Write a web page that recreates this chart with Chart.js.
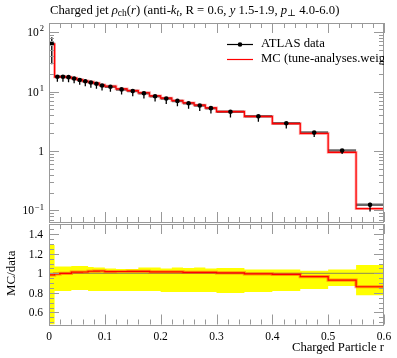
<!DOCTYPE html>
<html>
<head>
<meta charset="utf-8">
<script src="https://cdn.jsdelivr.net/npm/chart.js@4/dist/chart.umd.min.js"></script>
<style>
body { margin: 0; background: #fff; }
#wrap { position: relative; width: 397px; height: 358px; }
canvas { position: absolute; left: 0; }
#top { top: 0; }
#bot { top: 220px; }
</style>
</head>
<body>
<div id="wrap">
  <canvas id="top" width="397" height="226"></canvas>
  <canvas id="bot" width="397" height="138"></canvas>
</div>
<script>
// bins in r
const binLow  = [0, 0.01, 0.02, 0.03, 0.04, 0.05, 0.06, 0.07, 0.08, 0.09, 0.1, 0.12, 0.14, 0.16, 0.18, 0.2, 0.22, 0.24, 0.26, 0.28, 0.3, 0.35, 0.4, 0.45, 0.5, 0.55];
const binHigh = [0.01, 0.02, 0.03, 0.04, 0.05, 0.06, 0.07, 0.08, 0.09, 0.1, 0.12, 0.14, 0.16, 0.18, 0.2, 0.22, 0.24, 0.26, 0.28, 0.3, 0.35, 0.4, 0.45, 0.5, 0.55, 0.6];

// ATLAS data, rho_ch(r)
const dataVal = [64, 17.8, 17.8, 17.5, 16.6, 15.7, 14.9, 14.2, 13.6, 12.7, 12.1, 10.9, 10.2, 9.37, 8.35, 7.64, 6.97, 6.38, 5.84, 5.27, 4.57, 3.83, 2.93, 2.04, 1.02, 0.124];
// relative errors (up / down)
const dataErrUp   = [0.29, 0.07, 0.07, 0.07, 0.075, 0.075, 0.075, 0.065, 0.06, 0.06, 0.05, 0.045, 0.045, 0.06, 0.06, 0.05, 0.06, 0.055, 0.06, 0.05, 0.055, 0.04, 0.04, 0.025, 0.04, 0.085];
const dataErrDown = [0.55, 0.18, 0.18, 0.18, 0.17, 0.17, 0.17, 0.18, 0.18, 0.18, 0.18, 0.18, 0.18, 0.18, 0.18, 0.19, 0.19, 0.19, 0.19, 0.19, 0.2, 0.19, 0.18, 0.16, 0.13, 0.225];

// MC (tune-analyses.weights)
const mcVal = [63.0, 17.7, 17.8, 17.5, 16.8, 15.9, 15.1, 14.5, 13.9, 13.0, 12.3, 11.1, 10.4, 9.56, 8.48, 7.75, 7.07, 6.44, 5.90, 5.32, 4.59, 3.81, 2.90, 1.97, 0.949, 0.107];

const xTicks = [0, 0.1, 0.2, 0.3, 0.4, 0.5, 0.6];
const xTickLabels = ['0', '0.1', '0.2', '0.3', '0.4', '0.5', '0.6'];
const mainTicks = [0.1, 1, 10, 100];
const mainTickLabels = [['10', '\u22121'], ['1', ''], ['10', '1'], ['10', '2']];
const ratioTicks = [0.6, 0.8, 1, 1.2, 1.4];
const ratioTickLabels = ['0.6', '0.8', '1', '1.2', '1.4'];

const SERIF = '"Liberation Serif", "DejaVu Serif", serif';
const FRAME = '#999';

// helpers building step / segment data from arrays
function stepPoints(vals) {
  const pts = binLow.map((x, i) => ({x: x, y: vals[i]}));
  pts.push({x: binHigh[binHigh.length - 1], y: vals[vals.length - 1]});
  return pts;
}
function segments(list) {
  const pts = [];
  list.forEach(s => { pts.push(s[0], s[1], {x: s[1].x, y: null}); });
  return pts;
}
const centers = binLow.map((x, i) => (x + binHigh[i]) / 2);
const ratioVal = mcVal.map((m, i) => m / dataVal[i]);

function drawTicks(chart, yMajor, yMinor) {
  const {ctx, chartArea: a, scales: {x, y}} = chart;
  ctx.save();
  ctx.strokeStyle = FRAME;
  ctx.lineWidth = 1;
  ctx.beginPath();
  for (let i = 0; i <= 30; i++) {
    const v = i * 0.02;
    const px = Math.round(x.getPixelForValue(v)) + 0.5;
    const len = (i % 5 === 0) ? 10 : 5;
    ctx.moveTo(px, a.bottom); ctx.lineTo(px, a.bottom - len);
    ctx.moveTo(px, a.top); ctx.lineTo(px, a.top + len);
  }
  yMajor.forEach(v => {
    const py = Math.round(y.getPixelForValue(v)) + 0.5;
    ctx.moveTo(a.left, py); ctx.lineTo(a.left + 10, py);
    ctx.moveTo(a.right, py); ctx.lineTo(a.right - 10, py);
  });
  yMinor.forEach(v => {
    const py = Math.round(y.getPixelForValue(v)) + 0.5;
    if (py < a.top || py > a.bottom) return;
    ctx.moveTo(a.left, py); ctx.lineTo(a.left + 5, py);
    ctx.moveTo(a.right, py); ctx.lineTo(a.right - 5, py);
  });
  ctx.stroke();
  ctx.strokeRect(Math.round(a.left) + 0.5, Math.round(a.top) + 0.5,
    Math.round(a.right - a.left) - 1, Math.round(a.bottom - a.top));
  ctx.restore();
}

function drawRich(ctx, x, y, parts) {
  parts.forEach(p => {
    ctx.font = p.f;
    ctx.fillText(p.t, x, y + (p.dy || 0));
    x += ctx.measureText(p.t).width;
  });
}

const topPlugin = {
  id: 'topDecor',
  afterDraw(chart) {
    const {ctx, chartArea: a, scales: {y}} = chart;
    const logMinor = [];
    [0.01, 0.1, 1, 10].forEach(d => { for (let k = 2; k <= 9; k++) logMinor.push(d * k); });
    drawTicks(chart, mainTicks, logMinor);

    ctx.save();
    ctx.fillStyle = '#000';
    ctx.textBaseline = 'middle';
    mainTicks.forEach((v, i) => {
      const py = y.getPixelForValue(v);
      const [base, sup] = mainTickLabels[i];
      ctx.font = '11.5px ' + SERIF;
      const wb = ctx.measureText(base).width;
      ctx.font = '8.5px ' + SERIF;
      const ws = ctx.measureText(sup).width;
      let xs = 44 - wb - ws - (sup ? 1 : 0);
      ctx.font = '11.5px ' + SERIF;
      ctx.fillText(base, xs, py + 1);
      if (sup) {
        ctx.font = '8.5px ' + SERIF;
        ctx.fillText(sup, xs + wb + 1, py - 3);
      }
    });

    // title
    ctx.textBaseline = 'alphabetic';
    const n = '12.7px ' + SERIF, it = 'italic 12.7px ' + SERIF, sm = '9.5px ' + SERIF, smi = 'italic 9.5px ' + SERIF;
    drawRich(ctx, 50, 14, [
      {t: 'Charged jet ', f: n}, {t: '\u03c1', f: it}, {t: 'ch', f: sm, dy: 2},
      {t: '(', f: n}, {t: 'r', f: it}, {t: ') (anti-', f: n}, {t: 'k', f: it},
      {t: 't', f: smi, dy: 2}, {t: ', R = 0.6, ', f: n}, {t: 'y', f: it},
      {t: ' 1.5-1.9, ', f: n}, {t: 'p', f: it}, {t: '\u22a5', f: sm, dy: 2},
      {t: ' 4.0-6.0)', f: n}
    ]);

    // legend, clipped to the plot frame
    ctx.beginPath();
    ctx.rect(a.left, a.top, a.right - a.left, a.bottom - a.top);
    ctx.clip();
    ctx.lineWidth = 1.2;
    ctx.strokeStyle = '#000';
    ctx.beginPath(); ctx.moveTo(227, 44.5); ctx.lineTo(253, 44.5); ctx.stroke();
    ctx.beginPath(); ctx.arc(240, 44.5, 2.3, 0, Math.PI * 2); ctx.fill();
    ctx.strokeStyle = '#f00';
    ctx.beginPath(); ctx.moveTo(227, 59.5); ctx.lineTo(253, 59.5); ctx.stroke();
    ctx.font = '12.7px ' + SERIF;
    ctx.textBaseline = 'middle';
    ctx.fillText('ATLAS data', 261, 44);
    ctx.fillText('MC (tune-analyses.weights)', 261, 59);
    ctx.restore();
  }
};

const botPlugin = {
  id: 'botDecor',
  afterDraw(chart) {
    const {ctx, chartArea: a, scales: {x, y}} = chart;
    const minor = [];
    for (let i = 10; i <= 30; i++) minor.push(i * 0.05);
    drawTicks(chart, ratioTicks, minor);
    ctx.save();
    ctx.fillStyle = '#000';
    ctx.font = '11.5px ' + SERIF;
    ctx.textBaseline = 'middle';
    ctx.textAlign = 'right';
    ratioTicks.forEach((v, i) => ctx.fillText(ratioTickLabels[i], 43, y.getPixelForValue(v) + 1));
    ctx.textAlign = 'center';
    xTicks.forEach((v, i) => ctx.fillText(xTickLabels[i], x.getPixelForValue(v), a.bottom + 12));
    ctx.font = '12.7px ' + SERIF;
    ctx.textAlign = 'right';
    ctx.fillText('Charged Particle r', a.right, a.bottom + 23);
    ctx.translate(12, y.getPixelForValue(1));
    ctx.rotate(-Math.PI / 2);
    ctx.textAlign = 'center';
    ctx.font = '13px ' + SERIF;
    ctx.fillText('MC/data', 0, 0);
    ctx.restore();
  }
};

const lineDefaults = {type: 'line', pointRadius: 0, fill: false, spanGaps: false};

// main panel (higher order = drawn underneath)
new Chart(document.getElementById('top'), {
  type: 'line',
  data: {
    datasets: [
      Object.assign({}, lineDefaults, {
        label: 'data bin width', order: 5,
        data: segments(binLow.map((lo, i) => [{x: lo, y: dataVal[i]}, {x: binHigh[i], y: dataVal[i]}])),
        borderColor: '#6a6a6a', borderWidth: 2.5
      }),
      Object.assign({}, lineDefaults, {
        label: 'MC band', order: 4, data: stepPoints(mcVal), stepped: true,
        borderColor: 'rgba(255,0,0,0.35)', borderWidth: 2.8
      }),
      Object.assign({}, lineDefaults, {
        label: 'MC', order: 3, data: stepPoints(mcVal), stepped: true,
        borderColor: '#f00', borderWidth: 1.2
      }),
      Object.assign({}, lineDefaults, {
        label: 'data errors', order: 2,
        data: segments(centers.map((c, i) => [
          {x: c, y: dataVal[i] * (1 - dataErrDown[i])},
          {x: c, y: dataVal[i] * (1 + dataErrUp[i])}])),
        borderColor: '#000', borderWidth: 1.3
      }),
      Object.assign({}, lineDefaults, {
        label: 'ATLAS data', order: 1, data: centers.map((c, i) => ({x: c, y: dataVal[i]})),
        showLine: false, pointRadius: 2.3, pointBackgroundColor: '#000', pointBorderWidth: 0
      })
    ]
  },
  options: {
    responsive: false, animation: false, devicePixelRatio: 1,
    layout: {padding: {left: 49, right: 13, top: 23, bottom: 2}},
    plugins: {legend: {display: false}, tooltip: {enabled: false}},
    scales: {
      x: {type: 'linear', min: 0, max: 0.6, display: false},
      y: {type: 'logarithmic', min: 0.0638, max: 142.9, display: false}
    }
  },
  plugins: [topPlugin]
});

// ratio panel
new Chart(document.getElementById('bot'), {
  type: 'line',
  data: {
    datasets: [
      Object.assign({}, lineDefaults, {
        label: 'data band up', order: 6, data: stepPoints(dataErrUp.map(e => 1 + e)), stepped: true,
        borderWidth: 0, fill: '+1', backgroundColor: '#ffff00'
      }),
      Object.assign({}, lineDefaults, {
        label: 'data band down', order: 5, data: stepPoints(dataErrDown.map(e => 1 - e)), stepped: true,
        borderWidth: 0
      }),
      Object.assign({}, lineDefaults, {
        label: 'unity', order: 3, data: [{x: 0, y: 1}, {x: 0.6, y: 1}],
        borderColor: '#8a8a55', borderWidth: 1
      }),
      Object.assign({}, lineDefaults, {
        label: 'MC/data band', order: 2, data: stepPoints(ratioVal), stepped: true,
        borderColor: 'rgba(255,60,0,0.5)', borderWidth: 3.2
      }),
      Object.assign({}, lineDefaults, {
        label: 'MC/data', order: 1, data: stepPoints(ratioVal), stepped: true,
        borderColor: '#f00', borderWidth: 1.2
      })
    ]
  },
  options: {
    responsive: false, animation: false, devicePixelRatio: 1,
    layout: {padding: {left: 49, right: 13, top: 4, bottom: 33.5}},
    plugins: {legend: {display: false}, tooltip: {enabled: false}},
    scales: {
      x: {type: 'linear', min: 0, max: 0.6, display: false},
      y: {type: 'linear', min: 0.477, max: 1.504, display: false}
    }
  },
  plugins: [botPlugin]
});
</script>
</body>
</html>
